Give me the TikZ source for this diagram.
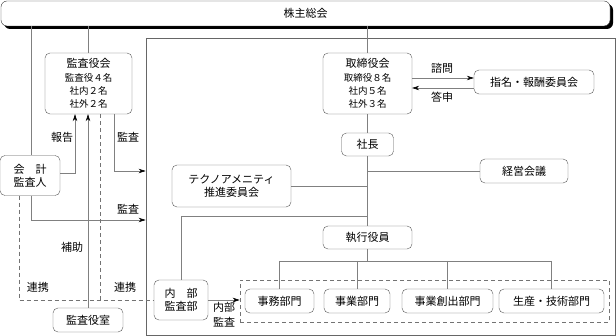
\documentclass[tikz,border=0pt]{standalone}
\usepackage{fontspec}
\setmainfont{Noto Sans CJK JP}
\usetikzlibrary{arrows.meta}
\newcommand{\sm}{\fontsize{9.5}{11.5}\selectfont}

\begin{document}
\begin{tikzpicture}[x=1pt,y=-1pt,>={Stealth[length=7pt,width=4.5pt,color=black]},
    box/.style={draw=black!65,rounded corners=5pt,fill=white,align=center,inner sep=0pt,font=\fontsize{11}{13}\selectfont},
    conn/.style={draw=black!50,line width=0.6pt},
    link/.style={draw=black!55,line width=0.6pt,dash pattern=on 4pt off 3pt},
    tag/.style={inner sep=0pt,align=center,font=\fontsize{11}{13}\selectfont}]
    \useasboundingbox (0,0) rectangle (616,336);
    % shareholders
    \fill [black,rounded corners=6pt] (4,4) rectangle (613,29);
    \node [box,draw=black!80,rounded corners=6pt,minimum width=609pt,minimum height=25pt] (kabu) at (305.5,13.5) {株主総会};
    % company frame
    \node [draw=black!60,line width=0.8pt,minimum width=469pt,minimum height=297pt,inner sep=0pt] (company) at (380.5,186.5) {};
    % outside the frame
    \node [box,minimum width=87pt,minimum height=61pt] (kansa) at (88.5,83.5) {監査役会\\[1pt]\sm 監査役４名\\\sm 社内２名\\\sm 社外２名};
    \node [box,minimum width=60pt,minimum height=40pt] (kaikei) at (30,175.5) {会　計\\監査人};
    \node [box,minimum width=70pt,minimum height=24pt] (shitsu) at (88,320) {監査役室};
    % inside the frame
    \node [box,minimum width=89pt,minimum height=61pt] (torishimari) at (367.5,83.5) {取締役会\\[1pt]\sm 取締役８名\\\sm 社内５名\\\sm 社外３名};
    \node [box,minimum width=120pt,minimum height=24pt] (shimei) at (534,82) {指名・報酬委員会};
    \node [box,minimum width=52pt,minimum height=23pt] (shacho) at (367.5,144.5) {社長};
    \node [box,minimum width=88pt,minimum height=24pt] (keiei) at (524,171) {経営会議};
    \node [box,minimum width=119pt,minimum height=42pt] (techno) at (231.5,186) {テクノアメニティ\\推進委員会};
    \node [box,minimum width=89pt,minimum height=23pt] (shikko) at (367.5,237.5) {執行役員};
    \node [box,minimum width=54pt,minimum height=40pt] (naibu) at (181,300) {内　部\\監査部};
    \node [link,minimum width=369pt,minimum height=42pt,inner sep=0pt] (bumon) at (424.5,301.5) {};
    \node [box,minimum width=69pt,minimum height=24pt] (jimu) at (279.5,301) {事務部門};
    \node [box,minimum width=66pt,minimum height=24pt] (jigyo) at (357,301) {事業部門};
    \node [box,minimum width=91pt,minimum height=24pt] (sousyutsu) at (447.5,301) {事業創出部門};
    \node [box,minimum width=105pt,minimum height=24pt] (seisan) at (551.5,301) {生産・技術部門};
    % labels
    \node [tag] (hokokuL) at (62,137) {報告};
    \node [tag] (kansaL1) at (128,137) {監査};
    \node [tag] (kansaL2) at (128,209) {監査};
    \node [tag] (hojoL) at (72,247) {補助};
    \node [tag] (renL1) at (38,287) {連携};
    \node [tag] (renL2) at (125,287) {連携};
    \node [tag] (shimonL) at (442,68) {諮問};
    \node [tag] (toshinL) at (442,97) {答申};
    \node [tag,font=\fontsize{11}{15}\selectfont] (naibuL) at (224,315) {内部\\監査};
    % connectors
    \coordinate (hokoku) at (75,173);
    \coordinate (k1) at (114,171);
    \coordinate (k2) at (31,220);
    \coordinate (ren) at (19,300);
    \coordinate (ren2) at (100,300);
    \coordinate (nb) at (181,216);
    \coordinate (bus) at (367.5,261);
    \draw [conn] (kabu.south -| k2) -- (kaikei.north -| k2);
    \draw [conn] (kabu.south -| shitsu) -- (kansa.north -| shitsu);
    \draw [conn] (kabu.south -| torishimari) -- (torishimari.north);
    \draw [conn,->] (kaikei.east |- hokoku) -- (hokoku) -- (hokoku |- kansa.south);
    \draw [conn,->] (shitsu.north) -- (shitsu.north |- kansa.south);
    \draw [conn,->] (k1 |- kansa.south) -- (k1) -- (k1 -| company.west);
    \draw [conn,->] (kaikei.south -| k2) -- (k2) -- (k2 -| company.west);
    \draw [link] (kaikei.south -| ren) -- (ren) -- (naibu.west);
    \draw [link] (kansa.south -| ren2) -- (ren2);
    \draw [conn] (torishimari.south) -- (shacho.north);
    \draw [conn] (shacho.south) -- (shikko.north);
    \draw [conn] (keiei.west) -- (keiei.west -| shacho);
    \draw [conn] (techno.east) -- (techno.east -| shacho);
    \draw [conn] (naibu.north -| nb) -- (nb) -- (nb -| shacho);
    \draw [conn,->] (torishimari.east |- 0,78) -- (shimei.west |- 0,78);
    \draw [conn,->] (shimei.west |- 0,88) -- (torishimari.east |- 0,88);
    \draw [conn] (shikko.south) -- (bus);
    \draw [conn] (bus -| jimu) -- (bus -| seisan);
    \foreach \d in {jimu,jigyo,sousyutsu,seisan}
        \draw [conn] (bus -| \d) -- (\d.north);
    \draw [conn,->] (naibu.east) -- (naibu.east -| bumon.west);
\end{tikzpicture}
\end{document}
